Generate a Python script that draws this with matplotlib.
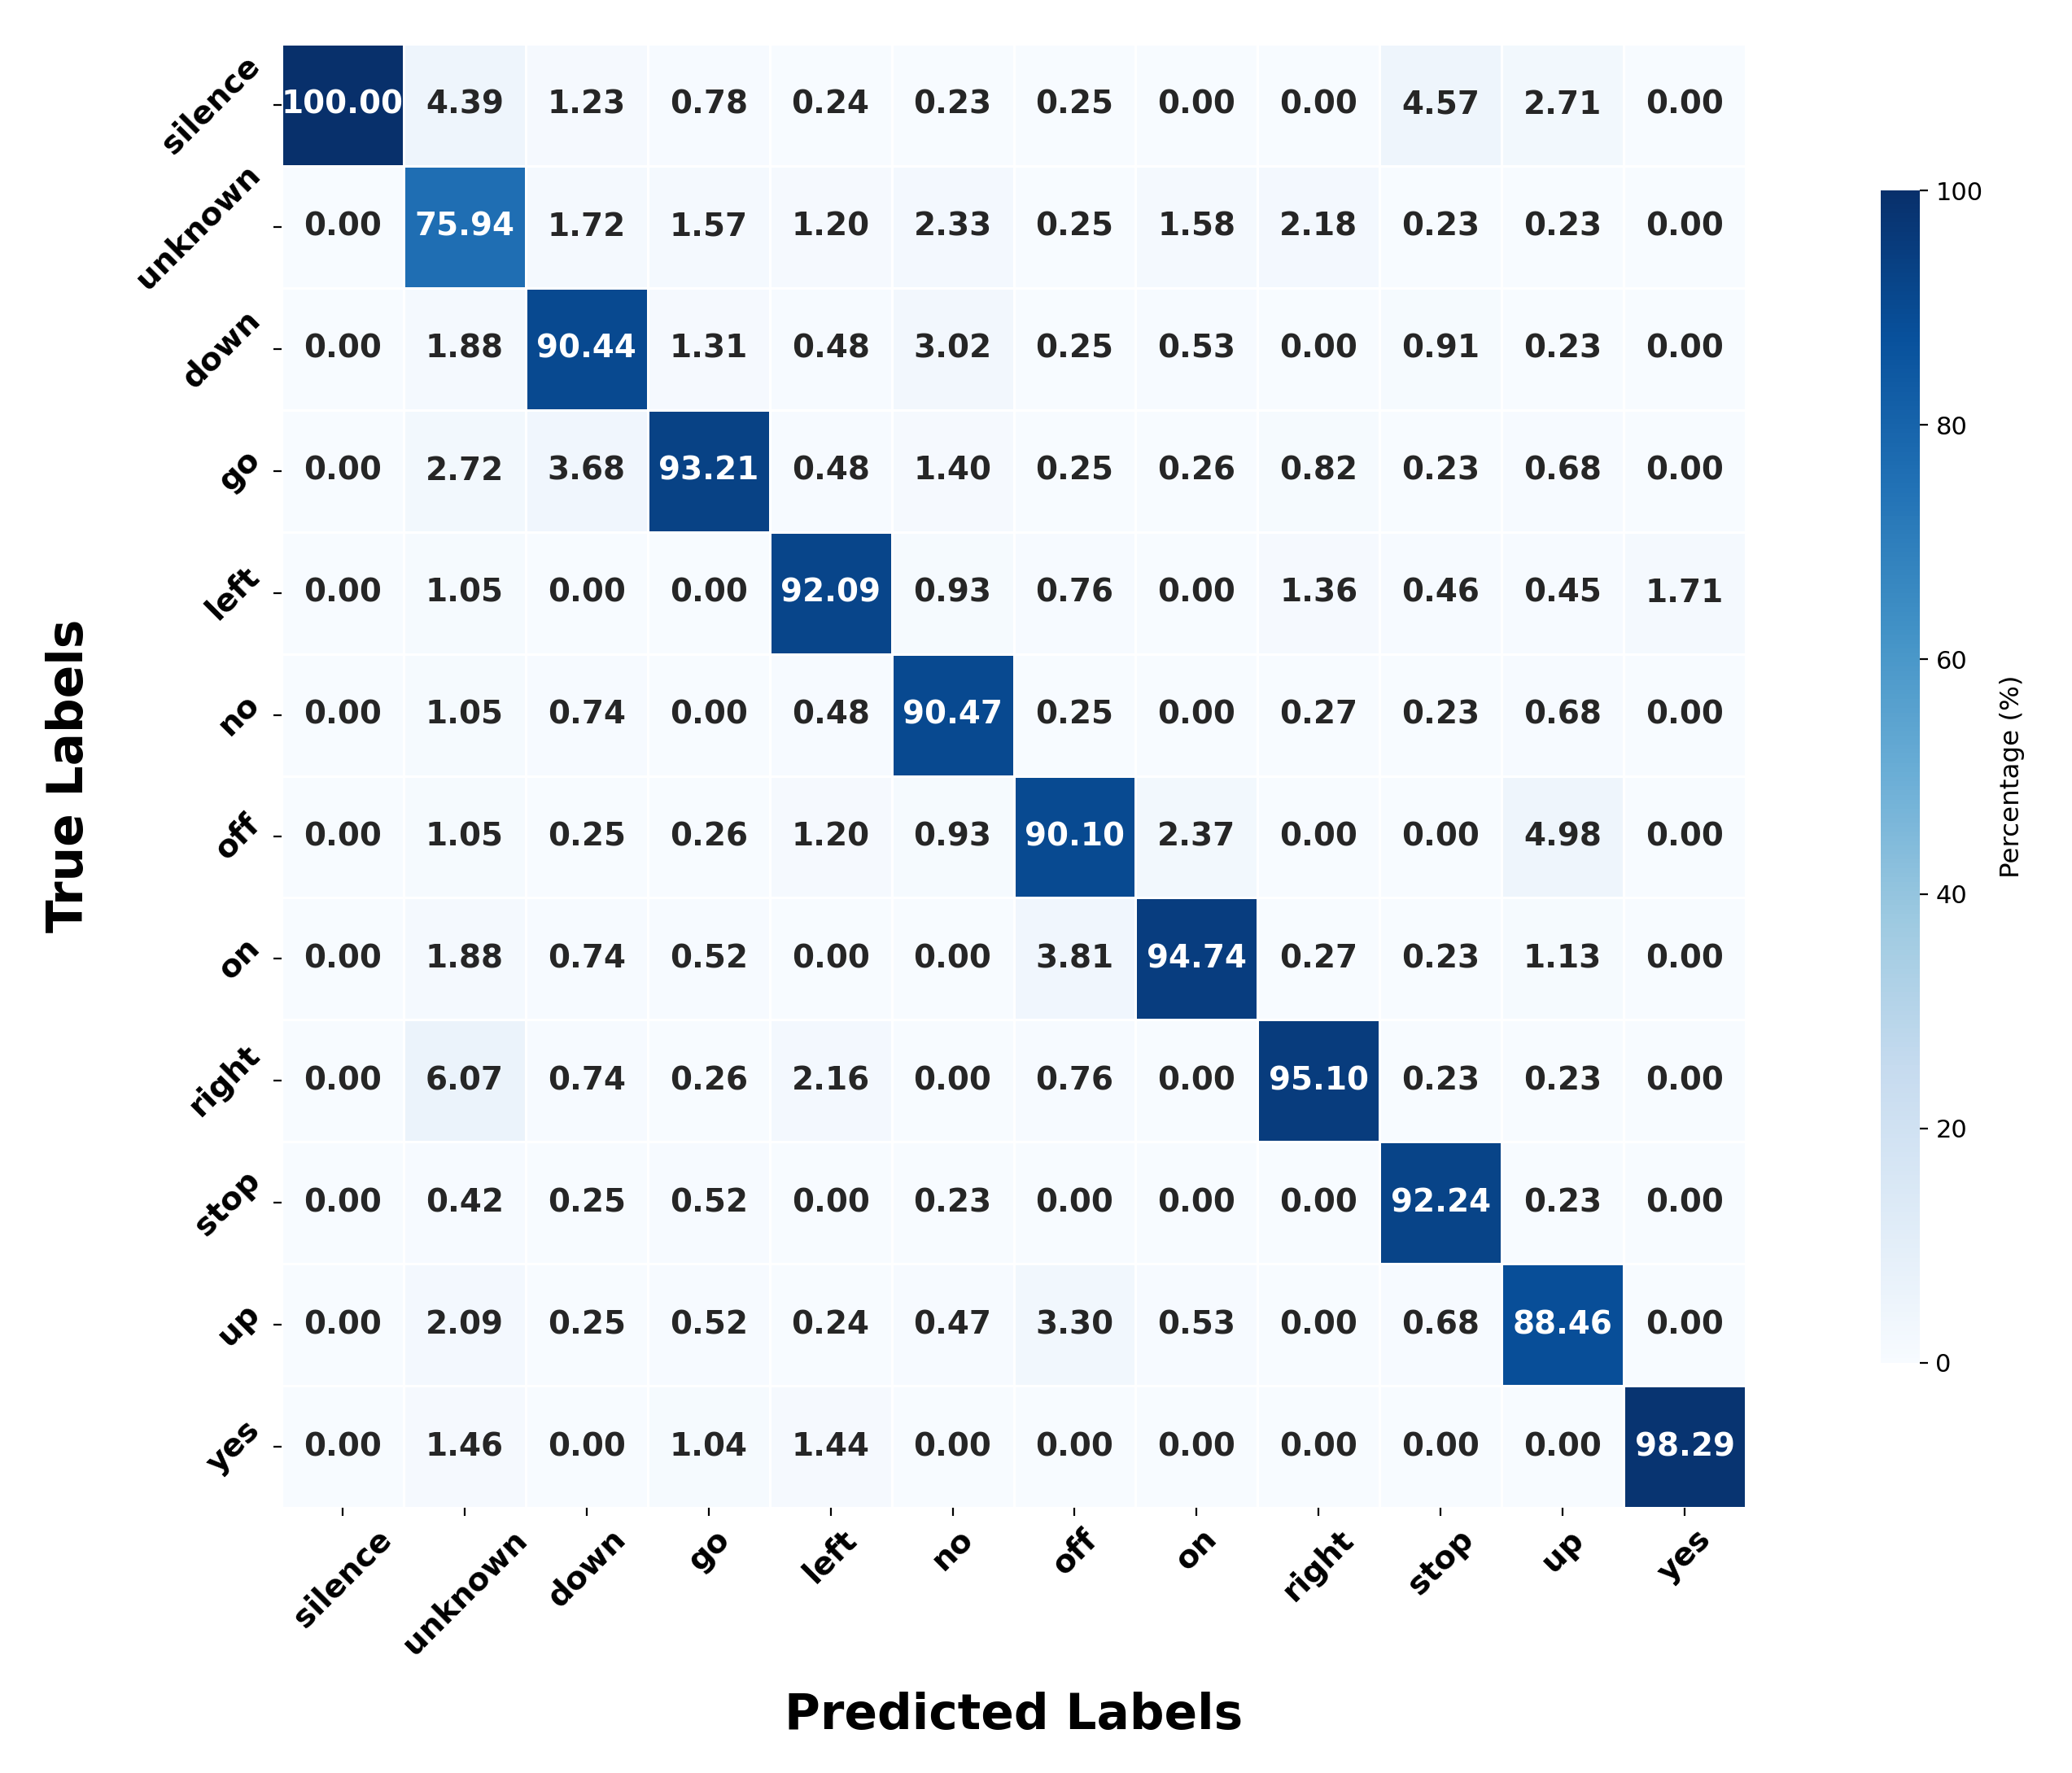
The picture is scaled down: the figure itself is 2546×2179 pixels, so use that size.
import numpy as np
import matplotlib
matplotlib.use("Agg")
import matplotlib.pyplot as plt
import seaborn as sns

labels = ["silence", "unknown", "down", "go", "left", "no", "off", "on",
          "right", "stop", "up", "yes"]

row_silence = [100.00, 4.39, 1.23, 0.78, 0.24, 0.23, 0.25, 0.00, 0.00, 4.57, 2.71, 0.00]
row_unknown = [0.00, 75.94, 1.72, 1.57, 1.20, 2.33, 0.25, 1.58, 2.18, 0.23, 0.23, 0.00]
row_down = [0.00, 1.88, 90.44, 1.31, 0.48, 3.02, 0.25, 0.53, 0.00, 0.91, 0.23, 0.00]
row_go = [0.00, 2.72, 3.68, 93.21, 0.48, 1.40, 0.25, 0.26, 0.82, 0.23, 0.68, 0.00]
row_left = [0.00, 1.05, 0.00, 0.00, 92.09, 0.93, 0.76, 0.00, 1.36, 0.46, 0.45, 1.71]
row_no = [0.00, 1.05, 0.74, 0.00, 0.48, 90.47, 0.25, 0.00, 0.27, 0.23, 0.68, 0.00]
row_off = [0.00, 1.05, 0.25, 0.26, 1.20, 0.93, 90.10, 2.37, 0.00, 0.00, 4.98, 0.00]
row_on = [0.00, 1.88, 0.74, 0.52, 0.00, 0.00, 3.81, 94.74, 0.27, 0.23, 1.13, 0.00]
row_right = [0.00, 6.07, 0.74, 0.26, 2.16, 0.00, 0.76, 0.00, 95.10, 0.23, 0.23, 0.00]
row_stop = [0.00, 0.42, 0.25, 0.52, 0.00, 0.23, 0.00, 0.00, 0.00, 92.24, 0.23, 0.00]
row_up = [0.00, 2.09, 0.25, 0.52, 0.24, 0.47, 3.30, 0.53, 0.00, 0.68, 88.46, 0.00]
row_yes = [0.00, 1.46, 0.00, 1.04, 1.44, 0.00, 0.00, 0.00, 0.00, 0.00, 0.00, 98.29]

matrix = np.array([row_silence, row_unknown, row_down, row_go, row_left, row_no,
                   row_off, row_on, row_right, row_stop, row_up, row_yes])

W, H = 2546, 2179
DPI = 200
fig = plt.figure(figsize=(W / DPI, H / DPI), dpi=DPI)

ax = fig.add_axes([346 / W, 1 - 1853 / H, 1799 / W, 1799 / H])
cax = fig.add_axes([2311 / W, 1 - 1675 / H, 48 / W, 1441 / H])

sns.heatmap(matrix, ax=ax, cbar_ax=cax, cmap="Blues", vmin=0, vmax=100,
            annot=True, fmt=".2f", annot_kws={"size": 14, "weight": "bold"},
            linewidths=0.5, linecolor="white",
            xticklabels=labels, yticklabels=labels,
            cbar_kws={"label": "Percentage (%)"})

ax.set_xticklabels(labels, rotation=45, ha="center", fontsize=14, fontweight="bold")
ax.set_yticklabels(labels, rotation=45, fontsize=14, fontweight="bold")

ax.set_xlabel("Predicted Labels", fontsize=21.5, fontweight="bold", va="center")
ax.set_ylabel("True Labels", fontsize=21.5, fontweight="bold", va="center")
ax.xaxis.set_label_coords(0.5, -(2108 - 1853) / 1799)
ax.yaxis.set_label_coords(-(346 - 86) / 1799, 0.5)

cax.tick_params(labelsize=11)
cax.set_ylabel("Percentage (%)", fontsize=11.7, va="center")
cax.yaxis.set_label_coords((2473 - 2311) / 48, 0.5)
cax.set_yticks([0, 20, 40, 60, 80, 100])

fig.savefig("out.png", dpi=DPI)
